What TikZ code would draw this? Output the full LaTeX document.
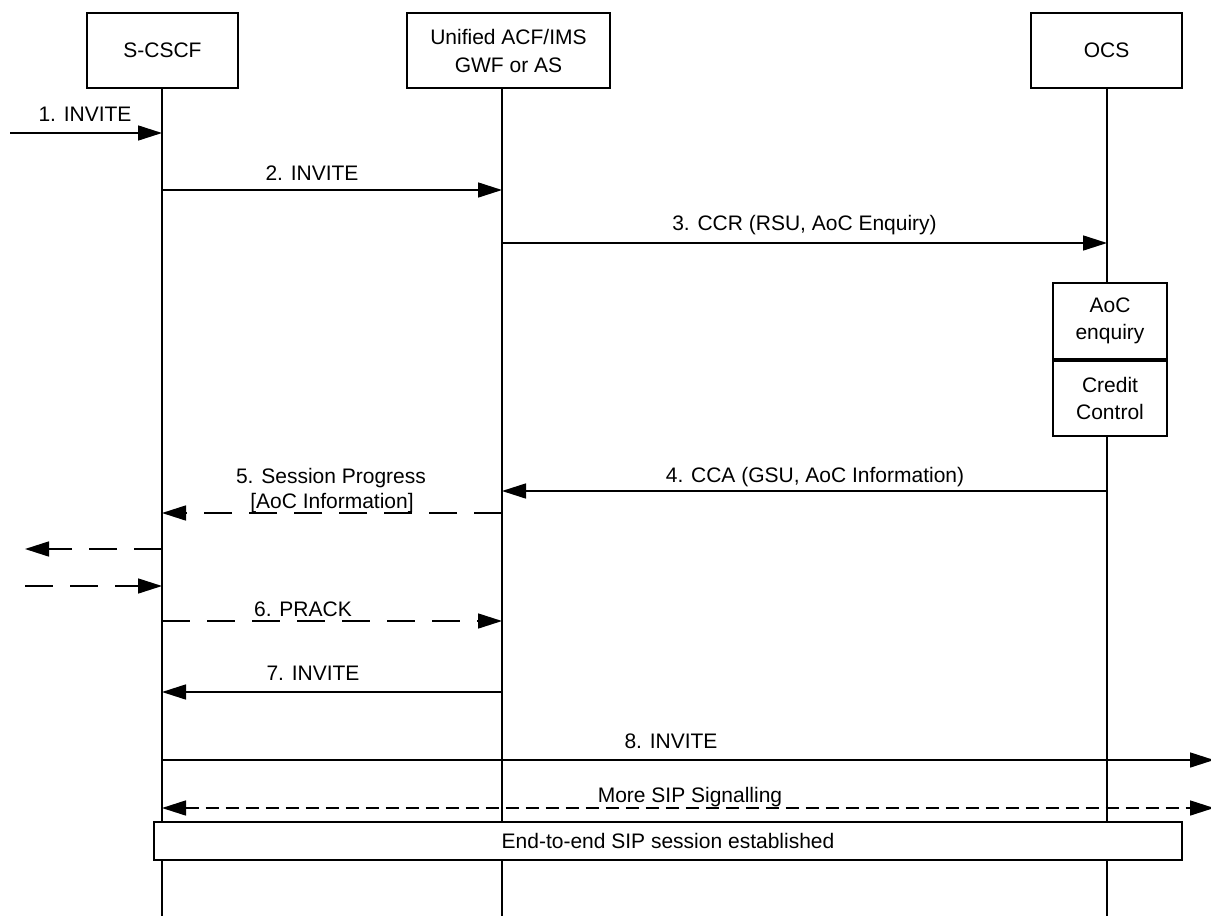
\documentclass[tikz,border=0pt]{standalone}
\usepackage{fontspec}
\setmainfont{Liberation Sans}
\usetikzlibrary{arrows.meta}
\begin{document}
\begin{tikzpicture}[x=1pt,y=-1pt,
  every node/.style={font=\fontsize{21}{25}\selectfont, inner sep=0pt},
  entity/.style={draw, line width=1.5pt, fill=white, minimum height=75pt, align=center},
  life/.style={line width=1.6pt},
  tipa/.tip={Triangle[length=24pt,width=15pt]},
  msg/.style={line width=1.6pt, -tipa},
  rsp/.style={msg, dash pattern=on 28pt off 17pt},
  sig/.style={line width=1.6pt, dash pattern=on 13pt off 7pt, tipa-tipa}]
\useasboundingbox (0,0) rectangle (1211,916);
\fill[white] (0,0) rectangle (1211,916);

% entities
\node[entity, minimum width=151pt] (scscf) at (162.5,50.5) {S-CSCF};
\node[entity, minimum width=203pt] (ugw) at (508.5,50.5) {Unified ACF/IMS\\[3pt]GWF or AS};
\node[entity, minimum width=151pt] (ocs) at (1106.5,50.5) {OCS};

% lifelines
\coordinate (sTop) at (162,88);  \coordinate (sEnd) at (162,916);
\coordinate (uTop) at (502,88);  \coordinate (uEnd) at (502,916);
\coordinate (oTop) at (1107,88); \coordinate (oEnd) at (1107,916);
\draw[life] (sTop) -- (sEnd);
\draw[life] (uTop) -- (uEnd);
\draw[life] (oTop) -- (oEnd);

% OCS processing boxes
\node[entity, minimum width=114pt, minimum height=76pt] (aoc) at (1110,321) {AoC\\[2pt]enquiry};
\node[entity, minimum width=114pt, minimum height=75pt] (cc) at (1110,398.5) {Credit\\[2pt]Control};

% message end points
\coordinate (a1) at (10,133);   \coordinate (b1) at (162,133);
\coordinate (a2) at (162,190);  \coordinate (b2) at (502,190);
\coordinate (a3) at (502,243);  \coordinate (b3) at (1107,243);
\coordinate (a4) at (1107,491); \coordinate (b4) at (502,491);
\coordinate (a5) at (502,513);  \coordinate (b5) at (162,513);
\coordinate (aL) at (162,549);  \coordinate (bL) at (25,549);
\coordinate (aR) at (25,586);   \coordinate (bR) at (162,586);
\coordinate (a6) at (162,621);  \coordinate (b6) at (502,621);
\coordinate (a7) at (502,692);  \coordinate (b7) at (162,692);
\coordinate (a8) at (162,760);  \coordinate (b8) at (1214,760);
\coordinate (a9) at (162,808);  \coordinate (b9) at (1214,808);

% messages
\draw[msg] (a1) -- (b1);
\node (l1) at (85,114) {1. INVITE};
\draw[msg] (a2) -- (b2);
\node (l2) at (312,173) {2. INVITE};
\draw[msg] (a3) -- (b3);
\node (l3) at (804.5,225) {3. CCR (RSU, AoC Enquiry)};
\draw[msg] (a4) -- (b4);
\node (l4) at (815,477) {4. CCA (GSU, AoC Information)};
\draw[rsp] (a5) -- (b5);
\node (l5a) at (331,478) {5. Session Progress};
\node (l5b) at (332,503) {[AoC Information]};
\draw[rsp] (aL) -- (bL);
\draw[rsp] (aR) -- (bR);
\draw[rsp] (a6) -- (b6);
\node (l6) at (303,609) {6. PRACK};
\draw[msg] (a7) -- (b7);
\node (l7) at (313,673) {7. INVITE};
\draw[msg] (a8) -- (b8);
\node (l8) at (671,741) {8. INVITE};
\draw[sig] (a9) -- (b9);
\node (l9) at (690,797) {More SIP Signalling};

% session bar
\node[entity, minimum width=1028pt, minimum height=38pt] (bar) at (668,841) {End-to-end SIP session established};
\end{tikzpicture}
\end{document}
